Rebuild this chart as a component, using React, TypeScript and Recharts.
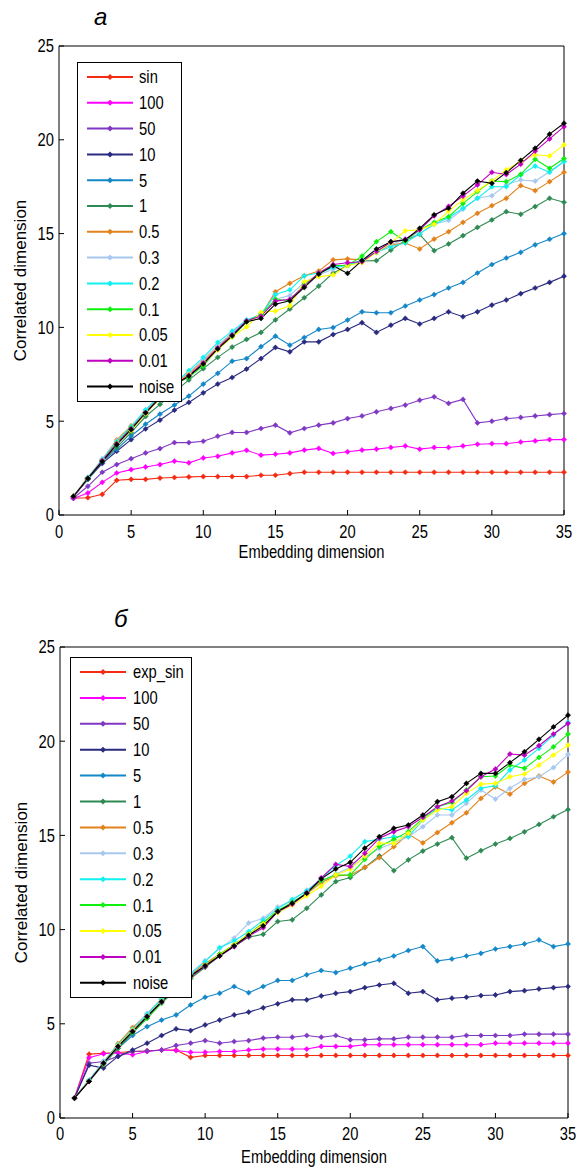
import React from 'react';
import { LineChart, Line, XAxis, YAxis, Legend } from 'recharts';

const dims = [1, 2, 3, 4, 5, 6, 7, 8, 9, 10, 11, 12, 13, 14, 15, 16, 17, 18, 19, 20, 21, 22, 23, 24, 25, 26, 27, 28, 29, 30, 31, 32, 33, 34, 35];
const xTicks = [0, 5, 10, 15, 20, 25, 30, 35];
const yTicks = [0, 5, 10, 15, 20, 25];

const namesA = ['sin', '100', '50', '10', '5', '1', '0.5', '0.3', '0.2', '0.1', '0.05', '0.01', 'noise'];
const namesB = ['exp_sin', '100', '50', '10', '5', '1', '0.5', '0.3', '0.2', '0.1', '0.05', '0.01', 'noise'];
const colors = ['#f42a12', '#ff00ff', '#8038c4', '#2a2a80', '#1487c8', '#2e8a52', '#e2821c', '#a8c8f0', '#10f0f0', '#10f010', '#ffff00', '#c000c0', '#000000'];

// panel a
const sinA = [0.9, 0.92, 1.1, 1.85, 1.9, 1.9, 1.97, 2.0, 2.03, 2.05, 2.05, 2.05, 2.05, 2.12, 2.12, 2.21, 2.28, 2.28, 2.28, 2.28, 2.28, 2.28, 2.28, 2.28, 2.28, 2.28, 2.28, 2.28, 2.28, 2.28, 2.28, 2.28, 2.28, 2.28, 2.28];
const n100A = [0.88, 1.17, 1.74, 2.24, 2.42, 2.56, 2.69, 2.87, 2.78, 3.04, 3.13, 3.31, 3.45, 3.19, 3.24, 3.31, 3.46, 3.55, 3.28, 3.37, 3.46, 3.51, 3.6, 3.68, 3.51, 3.6, 3.6, 3.68, 3.77, 3.8, 3.8, 3.89, 3.95, 4.02, 4.02];
const n50A = [0.9, 1.53, 2.28, 2.69, 3.0, 3.31, 3.54, 3.86, 3.86, 3.93, 4.2, 4.4, 4.4, 4.61, 4.79, 4.38, 4.61, 4.79, 4.91, 5.14, 5.28, 5.5, 5.68, 5.86, 6.12, 6.3, 5.95, 6.16, 4.91, 5.0, 5.14, 5.2, 5.28, 5.35, 5.41];
const n10A = [1.0, 1.9, 2.75, 3.4, 4.02, 4.59, 5.06, 5.59, 6.0, 6.51, 6.98, 7.33, 7.78, 8.34, 8.93, 8.7, 9.23, 9.23, 9.62, 9.89, 10.25, 9.73, 10.12, 10.48, 10.18, 10.48, 10.83, 10.57, 10.83, 11.19, 11.46, 11.8, 12.1, 12.4, 12.73];
const n5A = [1.0, 1.9, 2.85, 3.5, 4.21, 4.84, 5.38, 5.86, 6.34, 6.98, 7.55, 8.2, 8.34, 8.97, 9.53, 9.05, 9.46, 9.89, 9.99, 10.39, 10.83, 10.78, 10.78, 11.14, 11.46, 11.75, 12.1, 12.4, 12.9, 13.35, 13.7, 14.0, 14.4, 14.7, 15.0];
const n1A = [1.0, 1.9, 2.9, 3.6, 4.4, 5.25, 5.9, 6.55, 7.2, 7.8, 8.4, 8.95, 9.36, 9.73, 10.4, 10.98, 11.58, 12.2, 12.9, 13.3, 13.54, 13.56, 14.12, 14.64, 14.96, 14.09, 14.45, 14.89, 15.33, 15.73, 16.17, 16.03, 16.44, 16.88, 16.67];
const n05A = [1.0, 2.0, 2.95, 4.0, 4.75, 5.5, 6.3, 7.0, 7.55, 8.2, 8.95, 9.7, 10.35, 10.65, 11.9, 12.35, 12.75, 13.0, 13.6, 13.65, 13.6, 14.0, 14.4, 14.5, 14.18, 14.71, 15.1, 15.6, 16.08, 16.49, 16.88, 17.56, 17.29, 17.77, 18.27];
const n03A = [1.0, 2.0, 3.0, 3.95, 4.7, 5.6, 6.4, 7.05, 7.6, 8.3, 9.05, 9.7, 10.35, 10.6, 11.5, 11.7, 12.4, 12.8, 13.1, 13.4, 13.5, 14.1, 14.4, 14.7, 15.0, 15.5, 15.7, 16.3, 16.9, 17.02, 17.6, 17.86, 17.8, 18.3, 18.84];
const n02A = [1.0, 2.0, 2.95, 3.9, 4.7, 5.6, 6.35, 7.0, 7.7, 8.4, 9.2, 9.8, 10.4, 10.7, 11.75, 12.0, 12.75, 12.9, 13.2, 13.3, 13.6, 14.0, 14.3, 14.5, 15.0, 15.5, 15.85, 16.35, 16.88, 17.5, 17.5, 18.13, 18.6, 18.27, 18.84];
const n01A = [1.0, 1.95, 2.9, 3.85, 4.65, 5.4, 6.25, 6.95, 7.35, 7.95, 8.85, 9.5, 10.3, 10.7, 11.5, 11.42, 12.3, 12.85, 13.3, 13.3, 13.8, 14.57, 15.1, 14.6, 15.2, 15.6, 15.9, 16.6, 17.24, 17.8, 17.77, 18.16, 18.96, 18.48, 19.0];
const n005A = [1.0, 1.95, 2.9, 3.8, 4.5, 5.4, 6.2, 6.9, 7.5, 8.05, 8.8, 9.5, 10.03, 10.8, 10.87, 11.15, 12.43, 12.7, 12.8, 13.3, 13.45, 14.0, 14.5, 15.15, 15.2, 15.5, 16.2, 16.8, 17.3, 17.8, 18.4, 18.84, 19.2, 19.14, 19.73];
const n001A = [0.95, 1.95, 2.9, 3.8, 4.6, 5.45, 6.25, 6.95, 7.45, 8.1, 8.9, 9.6, 10.35, 10.6, 11.4, 11.5, 12.2, 12.9, 13.35, 13.45, 13.5, 14.05, 14.55, 14.7, 15.2, 15.95, 16.45, 17.0, 17.6, 18.27, 18.15, 18.7, 19.4, 20.05, 20.7];
const noiseA = [1.0, 1.95, 2.85, 3.75, 4.55, 5.45, 6.25, 6.95, 7.4, 8.05, 8.85, 9.55, 10.3, 10.48, 11.24, 11.42, 12.13, 12.84, 13.29, 12.88, 13.56, 14.18, 14.57, 14.66, 15.28, 16.0, 16.35, 17.15, 17.8, 17.68, 18.25, 18.9, 19.55, 20.3, 20.88];

// panel б
const expSinB = [1.06, 3.39, 3.44, 3.48, 3.53, 3.56, 3.61, 3.61, 3.22, 3.32, 3.32, 3.32, 3.32, 3.32, 3.32, 3.32, 3.32, 3.32, 3.32, 3.32, 3.32, 3.32, 3.32, 3.32, 3.32, 3.32, 3.32, 3.32, 3.32, 3.32, 3.32, 3.32, 3.32, 3.32, 3.32];
const n100B = [1.06, 3.2, 3.41, 3.45, 3.36, 3.53, 3.61, 3.58, 3.49, 3.49, 3.53, 3.53, 3.61, 3.66, 3.66, 3.66, 3.66, 3.8, 3.8, 3.8, 3.89, 3.89, 3.89, 3.89, 3.89, 3.89, 3.89, 3.89, 3.89, 3.97, 3.97, 3.97, 3.97, 3.97, 3.97];
const n50B = [1.06, 2.91, 3.0, 3.27, 3.53, 3.56, 3.61, 3.85, 3.97, 4.11, 3.97, 4.06, 4.11, 4.24, 4.29, 4.29, 4.38, 4.29, 4.38, 4.15, 4.15, 4.2, 4.2, 4.29, 4.29, 4.29, 4.29, 4.38, 4.38, 4.38, 4.38, 4.45, 4.45, 4.45, 4.45];
const n10B = [1.06, 2.8, 2.65, 3.27, 3.61, 3.97, 4.38, 4.73, 4.64, 4.94, 5.2, 5.47, 5.62, 5.85, 6.06, 6.27, 6.27, 6.48, 6.62, 6.71, 6.92, 7.06, 7.15, 6.62, 6.71, 6.27, 6.36, 6.41, 6.5, 6.53, 6.71, 6.76, 6.85, 6.92, 6.98];
const n5B = [1.06, 2.0, 2.9, 3.7, 4.38, 4.85, 5.2, 5.47, 6.0, 6.41, 6.62, 6.98, 6.65, 6.98, 7.3, 7.3, 7.6, 7.83, 7.72, 7.95, 8.18, 8.39, 8.6, 8.89, 9.1, 8.34, 8.44, 8.6, 8.74, 8.97, 9.1, 9.24, 9.45, 9.1, 9.24];
const n1B = [1.06, 1.95, 2.85, 3.7, 4.5, 5.3, 6.1, 6.8, 7.4, 8.0, 8.6, 9.1, 9.6, 9.75, 10.43, 10.52, 11.13, 11.84, 12.55, 12.76, 13.3, 13.91, 13.13, 13.7, 14.17, 14.54, 14.88, 13.79, 14.19, 14.54, 14.84, 15.19, 15.58, 15.99, 16.37];
const n05B = [1.06, 2.0, 2.95, 3.95, 4.8, 5.5, 6.3, 7.0, 7.6, 8.2, 8.7, 9.2, 9.75, 10.35, 11.0, 11.4, 11.9, 12.5, 12.85, 12.9, 13.3, 13.82, 14.4, 15.07, 14.6, 15.15, 15.67, 16.2, 16.96, 17.58, 17.19, 17.76, 18.15, 17.83, 18.36];
const n03B = [1.06, 2.0, 3.0, 3.9, 4.7, 5.55, 6.35, 7.1, 7.7, 8.35, 9.0, 9.55, 10.35, 10.6, 11.2, 11.55, 12.1, 12.6, 12.95, 13.3, 13.85, 14.3, 14.6, 14.93, 15.46, 16.08, 16.08, 16.7, 17.41, 16.93, 17.5, 17.97, 18.11, 18.6, 19.3];
const n02B = [1.06, 2.0, 2.95, 3.9, 4.7, 5.5, 6.3, 7.0, 7.65, 8.3, 9.05, 9.4, 9.9, 10.5, 11.1, 11.6, 12.05, 12.7, 13.4, 13.9, 14.67, 14.8, 14.93, 14.93, 15.82, 16.44, 16.35, 16.88, 17.5, 17.64, 18.47, 19.0, 19.62, 20.32, 21.0];
const n01B = [1.06, 1.95, 2.85, 3.8, 4.55, 5.3, 6.1, 6.9, 7.45, 8.1, 8.7, 9.2, 9.75, 10.35, 11.0, 11.45, 11.95, 12.6, 12.9, 12.9, 13.73, 14.4, 14.79, 15.2, 15.9, 16.52, 16.75, 17.41, 18.11, 18.15, 18.73, 18.56, 19.14, 19.7, 20.38];
const n005B = [1.06, 1.95, 2.9, 3.85, 4.65, 5.4, 6.2, 6.9, 7.5, 8.1, 8.65, 9.2, 9.75, 10.3, 10.9, 11.3, 11.8, 12.3, 12.9, 13.2, 13.9, 14.58, 14.58, 15.11, 15.82, 16.35, 16.52, 17.23, 17.72, 17.76, 18.11, 18.26, 18.73, 19.26, 19.79];
const n001B = [1.06, 1.94, 2.9, 3.8, 4.6, 5.4, 6.15, 6.85, 7.5, 8.05, 8.6, 9.1, 9.65, 10.1, 10.95, 11.35, 11.95, 12.75, 13.46, 13.35, 14.05, 14.85, 15.2, 15.46, 15.96, 16.52, 16.82, 17.37, 18.11, 18.52, 19.32, 19.26, 19.76, 20.38, 20.94];
const noiseB = [1.06, 1.94, 2.91, 3.8, 4.59, 5.38, 6.18, 6.9, 7.55, 8.08, 8.61, 9.14, 9.7, 10.2, 10.96, 11.4, 11.93, 12.69, 13.22, 13.57, 14.32, 14.93, 15.38, 15.55, 16.08, 16.79, 17.05, 17.76, 18.29, 18.29, 18.86, 19.44, 20.1, 20.76, 21.38];

const seriesA = [sinA, n100A, n50A, n10A, n5A, n1A, n05A, n03A, n02A, n01A, n005A, n001A, noiseA];
const seriesB = [expSinB, n100B, n50B, n10B, n5B, n1B, n05B, n03B, n02B, n01B, n005B, n001B, noiseB];

const font = '"Liberation Sans", Arial, sans-serif';
const squeeze = 0.82; // the scan is horizontally squeezed

const buildRows = (series: number[][]) =>
  dims.map((d, i) => {
    const row: Record<string, number> = { d };
    series.forEach((s, k) => { row['s' + k] = s[i]; });
    return row;
  });

const diamond = (color: string, r = 2.6) => (props: any) => {
  const { cx, cy, index } = props;
  if (cx == null || cy == null) return <g key={index} />;
  return (
    <path key={index} d={`M${cx},${cy - r}L${cx + r},${cy}L${cx},${cy + r}L${cx - r},${cy}Z`} fill={color} stroke={color} strokeWidth={0.5} />
  );
};

// narrow text, drawn at (x, y)
const NarrowText = ({ x, y, anchor, dy, size, children }: any) => (
  <text transform={`translate(${x},${y}) scale(${squeeze},1)`} x={0} y={0} dy={dy} textAnchor={anchor} fontSize={size} fontFamily={font} fill="#000">
    {children}
  </text>
);

const BottomTick = (props: any) => (
  <NarrowText x={props.x} y={props.y} anchor="middle" dy="0.71em" size={18}>{props.payload.value}</NarrowText>
);
const LeftTick = (props: any) => (
  <NarrowText x={props.x} y={props.y} anchor="end" dy="0.36em" size={18}>{props.payload.value}</NarrowText>
);

type LegendGeom = { left: number; top: number; width: number; height: number; row0: number; rowStep: number; lineX1: number; lineX2: number; textX: number };

const legendContent = (names: string[], g: LegendGeom) => () => (
  <div style={{ width: g.width, height: g.height, boxSizing: 'border-box', border: '1px solid #000', background: '#fff' }}>
    <svg width={g.width - 2} height={g.height - 2} style={{ display: 'block' }}>
      {names.map((n, i) => {
        const y = g.row0 + i * g.rowStep;
        const mx = (g.lineX1 + g.lineX2) / 2;
        return (
          <g key={n}>
            <line x1={g.lineX1} x2={g.lineX2} y1={y} y2={y} stroke={colors[i]} strokeWidth={2} />
            <path d={`M${mx},${y - 3}L${mx + 3},${y}L${mx},${y + 3}L${mx - 3},${y}Z`} fill={colors[i]} />
            <NarrowText x={g.textX} y={y} anchor="start" dy="0.36em" size={18}>{n}</NarrowText>
          </g>
        );
      })}
    </svg>
  </div>
);

type PanelProps = {
  top: number;
  height: number;
  margin: { top: number; right: number; bottom: number; left: number };
  series: number[][];
  names: string[];
  title: string;
  titleDx: number;
  titleDy: number;
  tickMarginX: number;
  xLabelOffset: number;
  legend: LegendGeom;
};

const Panel = (p: PanelProps) => {
  const rows = buildRows(p.series);
  return (
    <div style={{ position: 'absolute', left: 0, top: p.top }}>
      <LineChart width={579} height={p.height} data={rows} margin={p.margin}>
        <XAxis
          xAxisId="b"
          dataKey="d"
          type="number"
          domain={[0, 35]}
          ticks={xTicks}
          interval={0}
          height={1}
          tickSize={-5}
          tickMargin={p.tickMarginX}
          tick={<BottomTick />}
          stroke="#000"
          label={{
            content: (lp: any) => {
              const vb = lp.viewBox || { x: p.margin.left, y: p.height - p.margin.bottom, width: 579 - p.margin.left - p.margin.right };
              return (
                <NarrowText x={vb.x + vb.width / 2} y={vb.y + p.xLabelOffset} anchor="middle" dy="0.71em" size={18}>Embedding dimension</NarrowText>
              );
            },
          }}
        />
        <XAxis
          xAxisId="t"
          orientation="top"
          dataKey="d"
          type="number"
          domain={[0, 35]}
          ticks={xTicks}
          interval={0}
          height={1}
          tickSize={-5}
          tick={false}
          stroke="#000"
          label={{
            content: (lp: any) => {
              const vb = lp.viewBox || { x: p.margin.left, y: p.margin.top };
              return (
                <text x={vb.x + p.titleDx} y={vb.y + p.titleDy} fontSize={24} fontStyle="italic" fontFamily={font} fill="#000">{p.title}</text>
              );
            },
          }}
        />
        <YAxis
          yAxisId="l"
          type="number"
          domain={[0, 25]}
          ticks={yTicks}
          interval={0}
          width={1}
          tickSize={-5}
          tickMargin={10}
          tick={<LeftTick />}
          stroke="#000"
          label={{
            content: (lp: any) => {
              const vb = lp.viewBox || { x: p.margin.left, y: p.margin.top, height: p.height - p.margin.top - p.margin.bottom };
              const cx = vb.x - 38;
              const cy = vb.y + vb.height / 2;
              return (
                <text x={cx} y={cy} transform={`rotate(-90 ${cx} ${cy})`} textAnchor="middle" dominantBaseline="central" fontSize={17} fontFamily={font} fill="#000">Correlated dimension</text>
              );
            },
          }}
        />
        <YAxis yAxisId="r" orientation="right" type="number" domain={[0, 25]} ticks={yTicks} interval={0} width={1} tickSize={-5} tick={false} stroke="#000" />
        <Legend
          layout="vertical"
          align="center"
          verticalAlign="middle"
          wrapperStyle={{ left: p.legend.left, top: p.legend.top, width: p.legend.width, height: p.legend.height }}
          content={legendContent(p.names, p.legend)}
        />
        {p.names.map((n, k) => (
          <Line
            key={n}
            xAxisId="b"
            yAxisId="l"
            type="linear"
            dataKey={'s' + k}
            name={n}
            stroke={colors[k]}
            strokeWidth={1.1}
            dot={diamond(colors[k])}
            activeDot={false}
            isAnimationActive={false}
          />
        ))}
      </LineChart>
    </div>
  );
};

export default function App() {
  return (
    <div style={{ position: 'absolute', left: 0, top: 0, width: 579, height: 1167, background: '#fff' }}>
      <Panel
        top={0}
        height={580}
        margin={{ top: 45, right: 14, bottom: 64, left: 58 }}
        series={seriesA}
        names={namesA}
        title="а"
        titleDx={35}
        titleDy={-20}
        tickMarginX={15}
        xLabelOffset={30}
        legend={{ left: 77, top: 62, width: 105, height: 340, row0: 14, rowStep: 25.8, lineX1: 9, lineX2: 55, textX: 61 }}
      />
      <Panel
        top={580}
        height={587}
        margin={{ top: 66, right: 10, bottom: 48, left: 59 }}
        series={seriesB}
        names={namesB}
        title="б"
        titleDx={54}
        titleDy={-19}
        tickMarginX={14}
        xLabelOffset={32}
        legend={{ left: 70, top: 77, width: 122, height: 341, row0: 14, rowStep: 25.9, lineX1: 9, lineX2: 55, textX: 62 }}
      />
    </div>
  );
}
